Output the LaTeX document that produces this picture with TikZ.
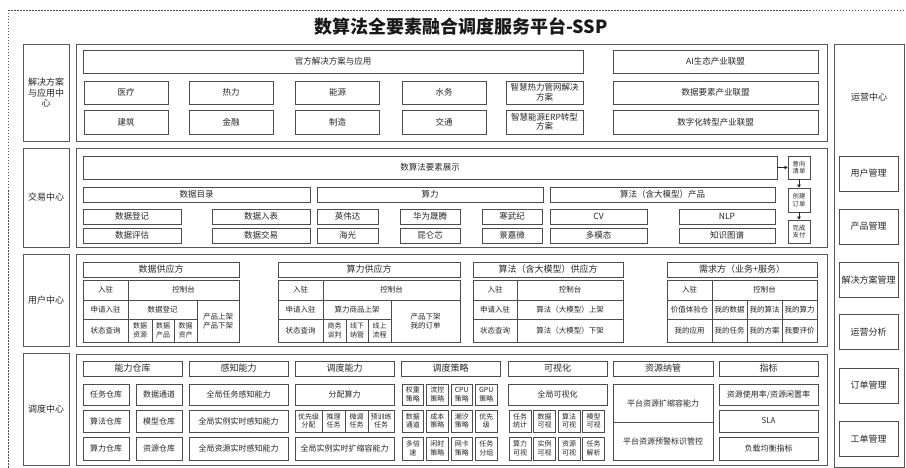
\documentclass[tikz,border=0pt]{standalone}
\usepackage{fontspec}
\setmainfont{Noto Sans CJK SC}
\usetikzlibrary{arrows.meta}

\tikzset{sz/.style 2 args = {minimum width=#1, minimum height=#2},
         panel/.style = {draw=black!65, line width=0.9pt, inner sep=0pt},
         side/.style = {panel, align=center, text=black!85, font=\fontsize{9}{10.5}\selectfont},
         cell/.style = {draw=black!70, line width=0.7pt, inner sep=0pt, align=center,
                        text=black!85, font=\fontsize{8.5}{10}\selectfont},
         head/.style = {cell, font=\fontsize{9}{10}\selectfont},
         body/.style = {cell, font=\fontsize{8}{9.5}\selectfont},
         tcell/.style = {cell, font=\fontsize{7.5}{9}\selectfont},
         small/.style = {cell, font=\fontsize{7}{8.5}\selectfont},
         flow/.style = {cell, font=\fontsize{6.3}{7.5}\selectfont},
         arr/.style = {-{Triangle[length=3pt,width=3.5pt]}, draw=black!85, line width=0.6pt}
        }

\begin{document}
\begin{tikzpicture}[x=1pt,y=-1pt]
\useasboundingbox (0,0) rectangle (906,468);
\draw[black!70, line width=0.6pt, dash pattern=on 1.5pt off 1.5pt] (8,10) rectangle (914,476);
\node[text=black!90, font=\fontsize{18}{20}\selectfont\bfseries] (title) at (461,26) {数算法全要素融合调度服务平台-SSP};

% 解决方案与应用中心
\node[side, sz={46}{97}] (lbA) at (46,92.5) {解决方案\\与应用中\\心};
\node[panel, sz={751}{97}] (mA) at (451.5,92.5) {};
\node[cell, sz={500}{23}] (gf) at (333,61.5) {官方解决方案与应用};
\node[cell, sz={205}{23}] (ai) at (715.5,61.5) {AI生态产业联盟};
\node[cell, sz={84}{23}] (yl) at (126,92.5) {医疗};
\node[cell, sz={84}{23}] (rl) at (231,92.5) {热力};
\node[cell, sz={84}{23}] (ny) at (337.5,92.5) {能源};
\node[cell, sz={84}{23}] (sw) at (444,92.5) {水务};
\node[cell, sz={77}{23}, font=\fontsize{8.5}{9.5}\selectfont] (rlgw) at (544.5,92.5) {智慧热力管网解决\\方案};
\node[cell, sz={205}{23}] (sjys) at (715.5,92.5) {数据要素产业联盟};
\node[cell, sz={84}{24}] (jz) at (126,122) {建筑};
\node[cell, sz={84}{24}] (jr) at (231,122) {金融};
\node[cell, sz={84}{24}] (zz) at (337.5,122) {制造};
\node[cell, sz={84}{24}] (jt) at (444,122) {交通};
\node[cell, sz={77}{24}, font=\fontsize{8.5}{9.5}\selectfont] (erp) at (544.5,122) {智慧能源ERP转型\\方案};
\node[cell, sz={205}{24}] (szh) at (715.5,122) {数字化转型产业联盟};

% 交易中心
\node[side, sz={46}{99}] (lbB) at (46,197.5) {交易中心};
\node[panel, sz={751}{99}] (mB) at (451.5,197.5) {};
\node[cell, sz={694}{23}] (zs) at (430,167.5) {数算法要素展示};
\node[flow, sz={22}{23}] (yx) at (799,167.5) {意向\\清单};
\node[flow, sz={22}{24}] (cj) at (799,200) {创建\\订单};
\node[flow, sz={22}{23}] (wc) at (799,231.5) {完成\\支付};
\draw[arr] (zs) -- (yx);
\draw[arr] (yx) -- (cj);
\draw[arr] (cj) -- (wc);
\node[cell, sz={227}{15}] (sjml) at (196.5,194.5) {数据目录};
\node[cell, sz={226}{15}] (sl) at (430,194.5) {算力};
\node[cell, sz={225}{15}] (sfcp) at (662.5,194.5) {算法（含大模型）产品};
\node[cell, sz={98}{15}] (sjdj) at (132,216.5) {数据登记};
\node[cell, sz={98}{15}] (sjrb) at (261,216.5) {数据入表};
\node[cell, sz={61}{15}] (ywd) at (347.5,216.5) {英伟达};
\node[cell, sz={60}{15}] (hw) at (430,216.5) {华为晟腾};
\node[cell, sz={60}{15}] (hwj) at (512,216.5) {寒武纪};
\node[cell, sz={97}{15}] (cv) at (598.5,216.5) {CV};
\node[cell, sz={96}{15}] (nlp) at (727,216.5) {NLP};
\node[cell, sz={98}{15}] (sjpg) at (132,235.5) {数据评估};
\node[cell, sz={98}{15}] (sjjy) at (261,235.5) {数据交易};
\node[cell, sz={61}{15}] (hg) at (347.5,235.5) {海光};
\node[cell, sz={60}{15}] (klx) at (430,235.5) {昆仑芯};
\node[cell, sz={60}{15}] (jjw) at (512,235.5) {景嘉微};
\node[cell, sz={97}{15}] (dmt) at (598.5,235.5) {多模态};
\node[cell, sz={96}{15}] (zstp) at (727,235.5) {知识图谱};

% 用户中心
\node[side, sz={46}{92}] (lbC) at (46,300) {用户中心};
\node[panel, sz={751}{92}] (mC) at (451.5,300) {};
% 数据供应方
\node[head, sz={156}{15}] (sjgy) at (161,269.5) {数据供应方};
\node[tcell, sz={45}{20}] (rz1) at (105.5,290) {入驻};
\node[tcell, sz={111}{20}] (kz1) at (183.5,290) {控制台};
\node[tcell, sz={45}{19}] (sq1) at (105.5,309.5) {申请入驻};
\node[tcell, sz={69}{19}] (dj1) at (162.5,309.5) {数据登记};
\node[tcell, sz={42}{42}] (sj1) at (218,321) {产品上架\\产品下架};
\node[tcell, sz={45}{23}] (cx1) at (105.5,330.5) {状态查询};
\node[small, sz={24}{23}] (zy1) at (140,330.5) {数据\\资源};
\node[small, sz={22}{23}] (cp1) at (163,330.5) {数据\\产品};
\node[small, sz={23}{23}] (zc1) at (185.5,330.5) {数据\\资产};
% 算力供应方
\node[head, sz={182}{15}] (slgy) at (369,269.5) {算力供应方};
\node[tcell, sz={45}{20}] (rz2) at (300.5,290) {入驻};
\node[tcell, sz={137}{20}] (kz2) at (391.5,290) {控制台};
\node[tcell, sz={45}{19}] (sq2) at (300.5,309.5) {申请入驻};
\node[tcell, sz={68}{19}] (sp2) at (357,309.5) {算力商品上架};
\node[tcell, sz={69}{42}] (xj2) at (425.5,321) {产品下架\\我的订单};
\node[tcell, sz={45}{23}] (cx2) at (300.5,330.5) {状态查询};
\node[small, sz={23}{23}] (tp2) at (334.5,330.5) {商务\\谈判};
\node[small, sz={22}{23}] (ng2) at (357,330.5) {线下\\纳管};
\node[small, sz={23}{23}] (lc2) at (379.5,330.5) {线上\\流程};
% 算法供应方
\node[head, sz={150}{15}] (sfgy) at (548,269.5) {算法（含大模型）供应方};
\node[tcell, sz={44}{20}] (rz3) at (495,290) {入驻};
\node[tcell, sz={106}{20}] (kz3) at (570,290) {控制台};
\node[tcell, sz={44}{19}] (sq3) at (495,309.5) {申请入驻};
\node[tcell, sz={106}{19}] (sj3) at (570,309.5) {算法（大模型）上架};
\node[tcell, sz={44}{23}] (cx3) at (495,330.5) {状态查询};
\node[tcell, sz={106}{23}] (xj3) at (570,330.5) {算法（大模型）下架};
% 需求方
\node[head, sz={150}{15}] (xqf) at (742,269.5) {需求方（业务+服务）};
\node[tcell, sz={45}{20}] (rz4) at (689.5,290) {入驻};
\node[tcell, sz={105}{20}] (kz4) at (764.5,290) {控制台};
\node[tcell, sz={45}{19}] (jz4) at (689.5,309.5) {价值体验仓};
\node[tcell, sz={35}{19}] (wsj) at (729.5,309.5) {我的数据};
\node[tcell, sz={35}{19}] (wsf) at (764.5,309.5) {我的算法};
\node[tcell, sz={35}{19}] (wsl) at (799.5,309.5) {我的算力};
\node[tcell, sz={45}{23}] (wyy) at (689.5,330.5) {我的应用};
\node[tcell, sz={35}{23}] (wrw) at (729.5,330.5) {我的任务};
\node[tcell, sz={35}{23}] (wfa) at (764.5,330.5) {我的方案};
\node[tcell, sz={35}{23}] (wpj) at (799.5,330.5) {我要评价};

% 调度中心
\node[side, sz={46}{112}] (lbD) at (46,409) {调度中心};
\node[panel, sz={751}{111}] (mD) at (451.5,409.5) {};
\node[head, sz={99}{15}] (nlck) at (132.5,368.5) {能力仓库};
\node[head, sz={99}{15}] (gznl) at (238.5,368.5) {感知能力};
\node[head, sz={99}{15}] (ddnl) at (344.5,368.5) {调度能力};
\node[head, sz={99}{15}] (ddcl) at (450.5,368.5) {调度策略};
\node[head, sz={99}{15}] (ksh) at (557.5,368.5) {可视化};
\node[head, sz={100}{15}] (zyng) at (663,368.5) {资源纳管};
\node[head, sz={99}{15}] (zb) at (768.5,368.5) {指标};
% 能力仓库
\node[body, sz={46}{21}] (rwck) at (106,394.5) {任务仓库};
\node[body, sz={46}{21}] (sjtd) at (159,394.5) {数据通道};
\node[body, sz={46}{22}] (sfck) at (106,421) {算法仓库};
\node[body, sz={46}{22}] (mxck) at (159,421) {模型仓库};
\node[body, sz={46}{23}] (slck) at (106,448.5) {算力仓库};
\node[body, sz={46}{23}] (zyck) at (159,448.5) {资源仓库};
% 感知能力
\node[body, sz={99}{21}] (gz1) at (238.5,394.5) {全局任务感知能力};
\node[body, sz={99}{22}] (gz2) at (238.5,421) {全局实例实时感知能力};
\node[body, sz={99}{23}] (gz3) at (238.5,448.5) {全局资源实时感知能力};
% 调度能力
\node[body, sz={99}{21}] (fpsl) at (344.5,394.5) {分配算力};
\node[small, sz={27}{22}] (yxj) at (308.5,421) {优先级\\分配};
\node[small, sz={23}{22}] (tlrw) at (333.5,421) {推理\\任务};
\node[small, sz={23}{22}] (wtrw) at (356.5,421) {微调\\任务};
\node[small, sz={26}{22}] (yxl) at (381,421) {预训练\\任务};
\node[body, sz={99}{23}] (ksr) at (344.5,448.5) {全局实例实时扩缩容能力};
% 调度策略
\node[small, sz={21.5}{21}] (qz) at (412.75,394.5) {权重\\策略};
\node[small, sz={21.5}{21}] (lk) at (437.25,394.5) {流控\\策略};
\node[small, sz={21.5}{21}] (cpu) at (461.75,394.5) {CPU\\策略};
\node[small, sz={21.5}{21}] (gpu) at (486.25,394.5) {GPU\\策略};
\node[small, sz={21.5}{22}] (sjtd2) at (412.75,421) {数据\\通道};
\node[small, sz={21.5}{22}] (cb) at (437.25,421) {成本\\策略};
\node[small, sz={21.5}{22}] (cx) at (461.75,421) {潮汐\\策略};
\node[small, sz={21.5}{22}] (yx2) at (486.25,421) {优先\\级};
\node[small, sz={21.5}{23}] (dbs) at (412.75,448.5) {多倍\\速};
\node[small, sz={21.5}{23}] (xs) at (437.25,448.5) {闲时\\策略};
\node[small, sz={21.5}{23}] (wk) at (461.75,448.5) {网卡\\策略};
\node[small, sz={21.5}{23}] (rwfz) at (486.25,448.5) {任务\\分组};
% 可视化
\node[body, sz={99}{21}] (qjks) at (557.5,394.5) {全局可视化};
\node[small, sz={22}{22}] (rwtj) at (520,421) {任务\\统计};
\node[small, sz={22}{22}] (sjks) at (544.5,421) {数据\\可视};
\node[small, sz={22}{22}] (sfks) at (569,421) {算法\\可视};
\node[small, sz={22}{22}] (mxks) at (593.5,421) {模型\\可视};
\node[small, sz={22}{23}] (slks) at (520,448.5) {算力\\可视};
\node[small, sz={22}{23}] (slks2) at (544.5,448.5) {实例\\可视};
\node[small, sz={22}{23}] (zyks) at (569,448.5) {资源\\可视};
\node[small, sz={22}{23}] (rwjx) at (593.5,448.5) {任务\\解析};
% 资源纳管
\node[body, sz={100}{38}] (ptks) at (663,403) {平台资源扩缩容能力};
\node[body, sz={100}{38}] (ptyj) at (663,441) {平台资源预警标识管控};
% 指标
\node[body, sz={99}{21}] (syl) at (768.5,394.5) {资源使用率/资源闲置率};
\node[body, sz={99}{22}] (sla) at (768.5,421) {SLA};
\node[body, sz={99}{23}] (fzjh) at (768.5,448.5) {负载均衡指标};

% 运营中心
\node[panel, sz={70}{423}] (yyzx) at (869,255.5) {};
\node[text=black!85, font=\fontsize{9}{10}\selectfont] (yyzxt) at (869,97) {运营中心};
\node[head, sz={59}{35}] (yhgl) at (868.5,173.5) {用户管理};
\node[head, sz={59}{35}] (cpgl) at (868.5,226.5) {产品管理};
\node[head, sz={59}{35}] (fagl) at (868.5,280) {解决方案管理};
\node[head, sz={59}{35}] (yyfx) at (868.5,332) {运营分析};
\node[head, sz={59}{35}] (ddgl) at (868.5,385.5) {订单管理};
\node[head, sz={59}{35}] (gdgl) at (868.5,439) {工单管理};
\end{tikzpicture}
\end{document}
